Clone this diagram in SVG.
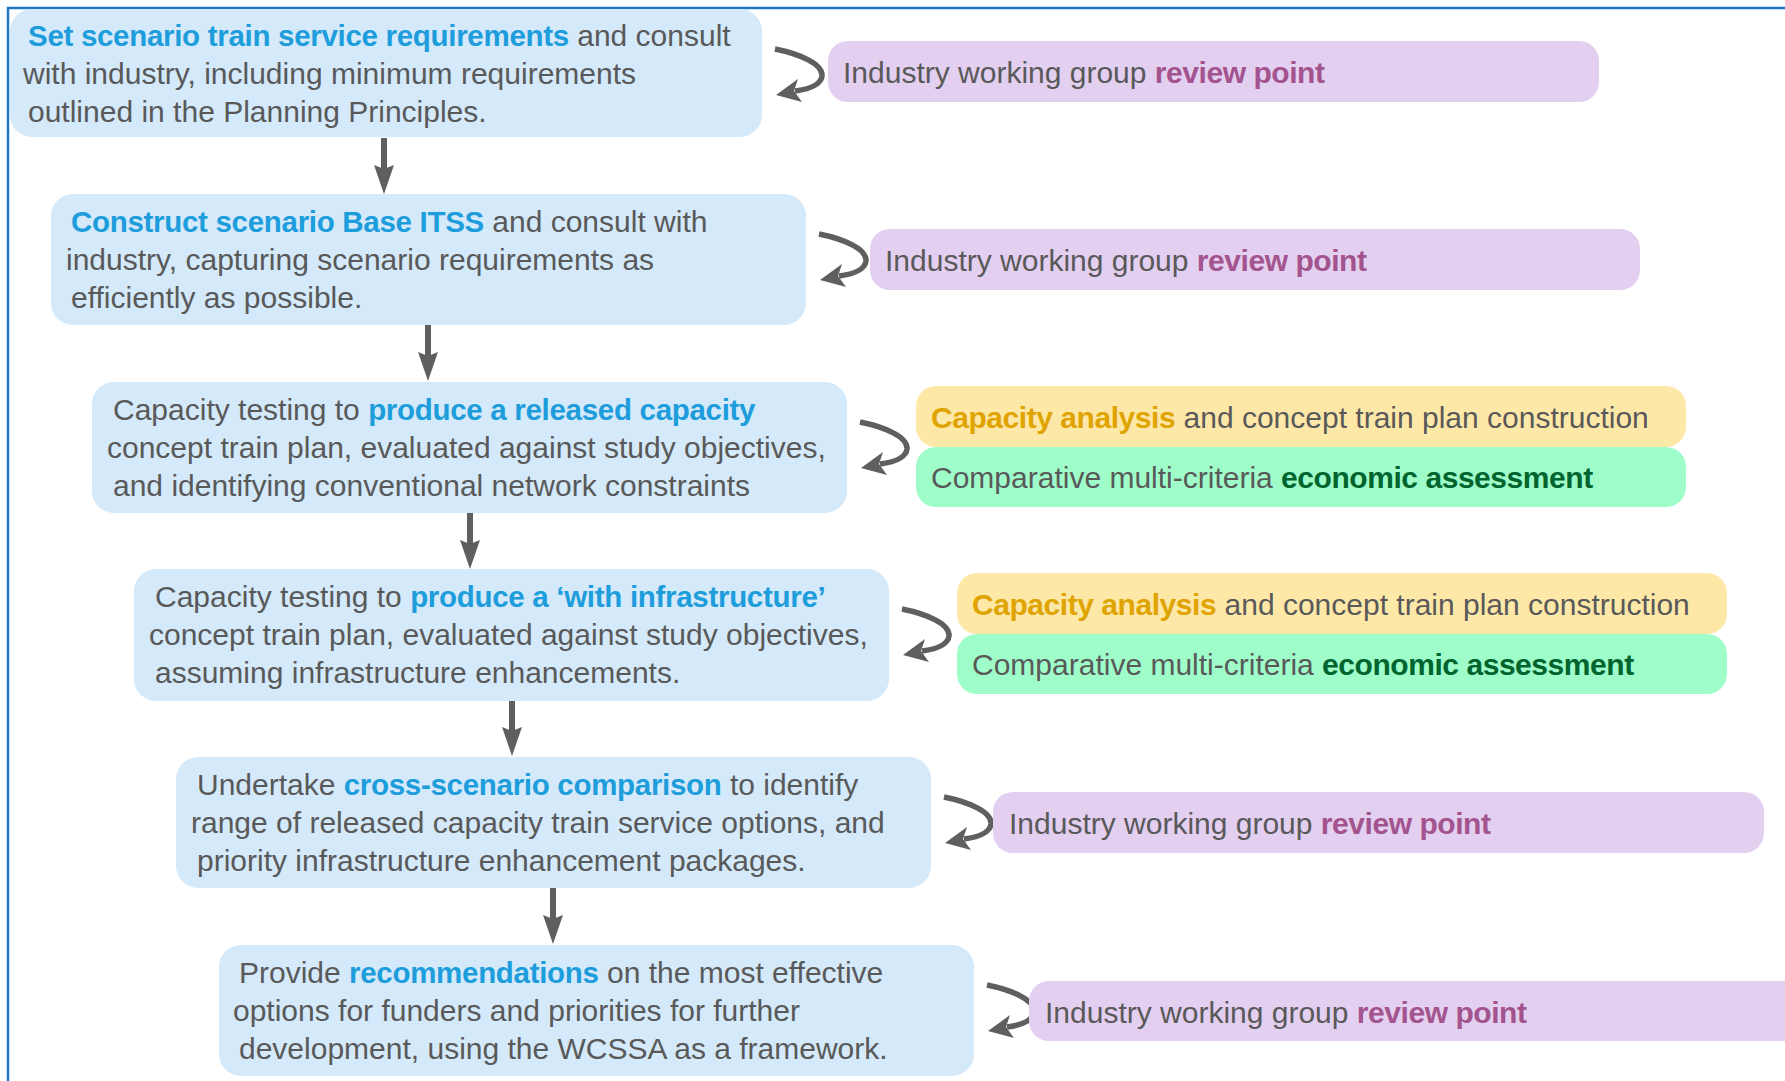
<svg xmlns="http://www.w3.org/2000/svg" xmlns:xlink="http://www.w3.org/1999/xlink" width="1785" height="1081" viewBox="0 0 1785 1081">
<style>
.main{fill:#d4e9fa}
.pur{fill:#e3cff0}
.yel{fill:#fee8a8}
.grn{fill:#9ffdca}
text{font-family:"Liberation Sans",Arial,sans-serif;fill:#595959}
.mt{font-size:30px}
.st{font-size:30px}
.b{font-weight:bold}
.mt .b{font-size:29.5px;letter-spacing:-0.3px}
.st .b{letter-spacing:-0.45px}
.blue{fill:#1d9ddb}
.pb{fill:#a3548f}
.ob{fill:#e0a400}
.gb{fill:#00642f}
.arr{stroke:#5f5f5f;fill:none}
.head{fill:#5f5f5f}
</style>
<defs>
<g id="varrow">
<path class="arr" d="M0,0 V32" stroke-width="6"/>
<polygon class="head" points="-10,27 0,56 10,27 0,31"/>
</g>
<g id="curl">
<path class="arr" d="M13,40 C38,45 61,55 60,67 C59,75 48,80 33,82" stroke-width="5.5"/>
<polygon class="head" points="14,86 36,70 32,82 40,93"/>
</g>
</defs>
<rect x="0" y="0" width="1785" height="1081" fill="#ffffff"/>
<rect x="8" y="8" width="1800" height="1100" fill="none" stroke="#1f78c1" stroke-width="2.5"/>

<g id="connectors">
<use xlink:href="#varrow" href="#varrow" transform="translate(384,138)"/>
<use xlink:href="#varrow" href="#varrow" transform="translate(428,325)"/>
<use xlink:href="#varrow" href="#varrow" transform="translate(470,513)"/>
<use xlink:href="#varrow" href="#varrow" transform="translate(512,700)"/>
<use xlink:href="#varrow" href="#varrow" transform="translate(553,888)"/>
<use xlink:href="#curl" href="#curl" transform="translate(762,9)"/>
<use xlink:href="#curl" href="#curl" transform="translate(806,194)"/>
<use xlink:href="#curl" href="#curl" transform="translate(847,382)"/>
<use xlink:href="#curl" href="#curl" transform="translate(889,569)"/>
<use xlink:href="#curl" href="#curl" transform="translate(931,757)"/>
<use xlink:href="#curl" href="#curl" transform="translate(974,945)"/>
</g>

<g id="step1">
<rect class="main" x="10" y="9" width="752" height="128" rx="22"/>
<text class="mt" x="28" y="46"><tspan class="b blue">Set scenario train service requirements</tspan> and consult</text>
<text class="mt" x="23" y="84">with industry, including minimum requirements</text>
<text class="mt" x="28" y="122">outlined in the Planning Principles.</text>
</g>
<g id="review1">
<rect class="pur" x="828" y="41" width="771" height="61" rx="20"/>
<text class="st" x="843" y="83">Industry working group <tspan class="b pb">review point</tspan></text>
</g>

<g id="step2">
<rect class="main" x="51" y="194" width="755" height="131" rx="22"/>
<text class="mt" x="71" y="232"><tspan class="b blue">Construct scenario Base ITSS</tspan> and consult with</text>
<text class="mt" x="66" y="270">industry, capturing scenario requirements as</text>
<text class="mt" x="71" y="308">efficiently as possible.</text>
</g>
<g id="review2">
<rect class="pur" x="870" y="229" width="770" height="61" rx="20"/>
<text class="st" x="885" y="271">Industry working group <tspan class="b pb">review point</tspan></text>
</g>

<g id="step3">
<rect class="main" x="92" y="382" width="755" height="131" rx="22"/>
<text class="mt" x="113" y="420">Capacity testing to <tspan class="b blue">produce a released capacity</tspan></text>
<text class="mt" x="107" y="458">concept train plan, evaluated against study objectives,</text>
<text class="mt" x="113" y="496">and identifying conventional network constraints</text>
</g>
<g id="analysis3">
<rect class="yel" x="916" y="386" width="770" height="61" rx="20"/>
<text class="st" x="931" y="428"><tspan class="b ob">Capacity analysis</tspan> and concept train plan construction</text>
</g>
<g id="economic3">
<rect class="grn" x="916" y="447" width="770" height="60" rx="20"/>
<text class="st" x="931" y="488">Comparative multi-criteria <tspan class="b gb">economic assessment</tspan></text>
</g>

<g id="step4">
<rect class="main" x="134" y="569" width="755" height="132" rx="22"/>
<text class="mt" x="155" y="607">Capacity testing to <tspan class="b blue">produce a ‘with infrastructure’</tspan></text>
<text class="mt" x="149" y="645">concept train plan, evaluated against study objectives,</text>
<text class="mt" x="155" y="683">assuming infrastructure enhancements.</text>
</g>
<g id="analysis4">
<rect class="yel" x="957" y="573" width="770" height="61" rx="20"/>
<text class="st" x="972" y="615"><tspan class="b ob">Capacity analysis</tspan> and concept train plan construction</text>
</g>
<g id="economic4">
<rect class="grn" x="957" y="634" width="770" height="60" rx="20"/>
<text class="st" x="972" y="675">Comparative multi-criteria <tspan class="b gb">economic assessment</tspan></text>
</g>

<g id="step5">
<rect class="main" x="176" y="757" width="755" height="131" rx="22"/>
<text class="mt" x="197" y="795">Undertake <tspan class="b blue">cross-scenario comparison</tspan> to identify</text>
<text class="mt" x="191" y="833">range of released capacity train service options, and</text>
<text class="mt" x="197" y="871">priority infrastructure enhancement packages.</text>
</g>
<g id="review5">
<rect class="pur" x="993" y="792" width="771" height="61" rx="20"/>
<text class="st" x="1009" y="834">Industry working group <tspan class="b pb">review point</tspan></text>
</g>

<g id="step6">
<rect class="main" x="219" y="945" width="755" height="131" rx="22"/>
<text class="mt" x="239" y="983">Provide <tspan class="b blue">recommendations</tspan> on the most effective</text>
<text class="mt" x="233" y="1021">options for funders and priorities for further</text>
<text class="mt" x="239" y="1059">development, using the WCSSA as a framework.</text>
</g>
<g id="review6">
<rect class="pur" x="1029" y="981" width="800" height="60" rx="20"/>
<text class="st" x="1045" y="1023">Industry working group <tspan class="b pb">review point</tspan></text>
</g>
</svg>
